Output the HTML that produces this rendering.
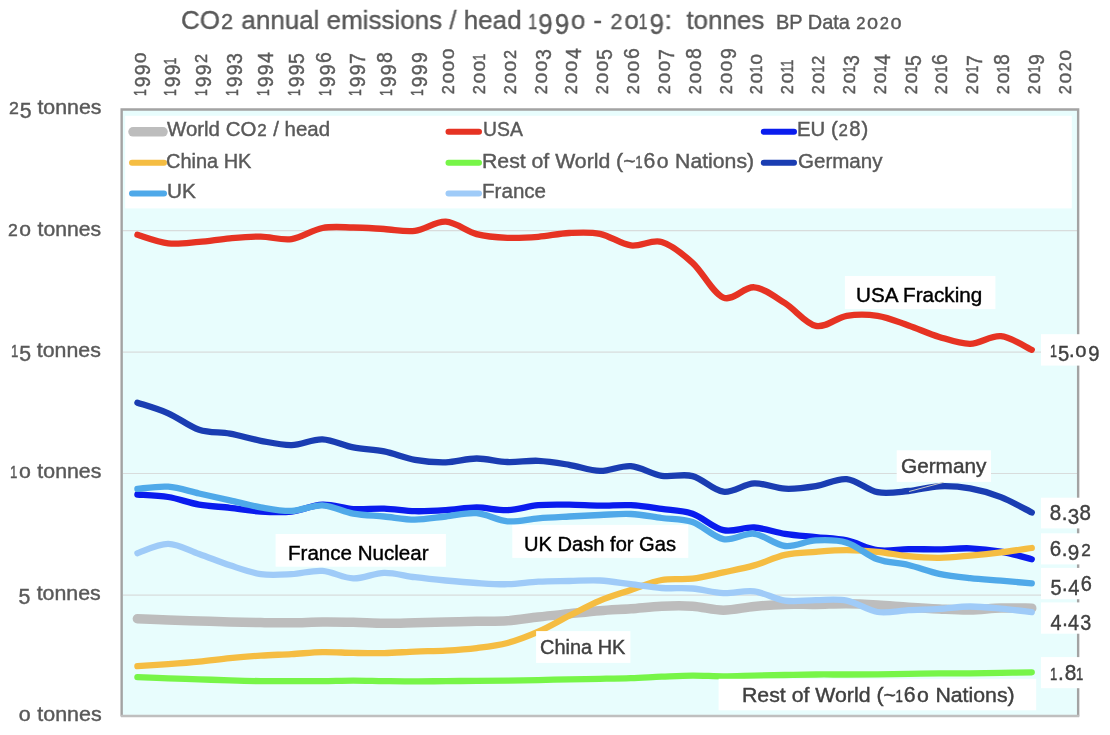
<!DOCTYPE html><html><head><meta charset="utf-8"><title>CO2 annual emissions / head</title><style>
html,body{margin:0;padding:0;background:#fff}
body{width:1110px;height:735px;position:relative;overflow:hidden;font-family:"Liberation Sans",sans-serif}
svg{position:absolute;left:0;top:0}
.t{position:absolute;white-space:nowrap;line-height:1;transform-origin:0 0;will-change:transform;-webkit-text-stroke:.4px}
.y{position:absolute;white-space:nowrap;line-height:1;transform-origin:0 0;color:#595959;font-size:19.3px;will-change:transform;-webkit-text-stroke:.4px}

.t span,.y span{line-height:0}
.d0{margin:0 .033em}.d0 i{font-size:0}.d0::after{content:"o"}
.d1{font-size:83%;margin:0 -0.045em 0 -0.105em;display:inline-block;transform:scaleX(.75);}
.d2{font-size:83%;margin:0 0.053em 0 0.053em;}
.d3{font-size:111%;margin:0 -0.031em 0 -0.031em;position:relative;top:.178em;display:inline-block;transform:scaleX(.9);}
.d4{font-size:111%;margin:0 0.002em 0 0.002em;position:relative;top:.178em;display:inline-block;transform:scaleX(.9);}
.d5{font-size:111%;margin:0 -0.031em 0 -0.031em;position:relative;top:.178em;display:inline-block;transform:scaleX(.9);}
.d6{font-size:111%;margin:0 0.002em 0 0.002em;display:inline-block;transform:scaleX(.9);}
.d7{font-size:111%;margin:0 -0.031em 0 -0.031em;position:relative;top:.178em;display:inline-block;transform:scaleX(.9);}
.d8{font-size:111%;margin:0 0.002em 0 0.002em;display:inline-block;transform:scaleX(.9);}
.d9{font-size:111%;margin:0 0.004em 0 0.004em;position:relative;top:.178em;display:inline-block;transform:scaleX(.9);}

</style></head><body>
<svg width="1110" height="735" viewBox="0 0 1110 735">
<rect x="122" y="109.4" width="956" height="606.6" fill="#e8fdfd"/>
<line x1="123" x2="1077" y1="230.6" y2="230.6" stroke="#d8dcdc" stroke-width="1.2"/>
<line x1="123" x2="1077" y1="352.1" y2="352.1" stroke="#d8dcdc" stroke-width="1.2"/>
<line x1="123" x2="1077" y1="473.5" y2="473.5" stroke="#d8dcdc" stroke-width="1.2"/>
<line x1="123" x2="1077" y1="595.1" y2="595.1" stroke="#d8dcdc" stroke-width="1.2"/>
<rect x="125.2" y="115.8" width="946.6" height="92.6" fill="#fff"/>
<path d="M137.40 618.80 C142.54 619.00 157.96 619.63 168.24 620.00 C178.52 620.37 188.80 620.67 199.08 621.00 C209.36 621.33 219.64 621.73 229.92 622.00 C240.20 622.27 250.48 622.47 260.76 622.60 C271.04 622.73 281.32 622.90 291.60 622.80 C301.88 622.70 312.16 622.08 322.44 622.00 C332.72 621.92 343.00 622.08 353.28 622.30 C363.56 622.52 373.84 623.22 384.12 623.30 C394.40 623.38 404.68 623.00 414.96 622.80 C425.24 622.60 435.52 622.35 445.80 622.10 C456.08 621.85 466.36 621.52 476.64 621.30 C486.92 621.08 497.20 621.52 507.48 620.80 C517.76 620.08 528.04 618.17 538.32 617.00 C548.60 615.83 558.88 614.85 569.16 613.80 C579.44 612.75 589.72 611.55 600.00 610.70 C610.28 609.85 620.56 609.45 630.84 608.70 C641.12 607.95 651.40 606.62 661.68 606.20 C671.96 605.78 682.24 605.53 692.52 606.20 C702.80 606.87 713.08 610.17 723.36 610.20 C733.64 610.23 743.92 607.37 754.20 606.40 C764.48 605.43 774.76 604.73 785.04 604.40 C795.32 604.07 805.60 604.52 815.88 604.40 C826.16 604.28 836.44 603.62 846.72 603.70 C857.00 603.78 867.28 604.32 877.56 604.90 C887.84 605.48 898.12 606.52 908.40 607.20 C918.68 607.88 928.96 608.53 939.24 609.00 C949.52 609.47 959.80 610.17 970.08 610.00 C980.36 609.83 990.64 608.30 1000.92 608.00 C1011.20 607.70 1026.62 608.17 1031.76 608.20" fill="none" stroke="#bdbdbd" stroke-width="9.5" stroke-linecap="round" stroke-linejoin="round"/>
<path d="M137.40 234.80 C142.54 236.23 157.96 242.22 168.24 243.40 C178.52 244.58 188.80 242.75 199.08 241.90 C209.36 241.05 219.64 239.18 229.92 238.30 C240.20 237.42 250.48 236.47 260.76 236.60 C271.04 236.73 281.32 240.53 291.60 239.10 C301.88 237.67 312.16 229.93 322.44 228.00 C332.72 226.07 343.00 227.33 353.28 227.50 C363.56 227.67 373.84 228.45 384.12 229.00 C394.40 229.55 404.68 232.02 414.96 230.80 C425.24 229.58 435.52 221.15 445.80 221.70 C456.08 222.25 466.36 231.42 476.64 234.10 C486.92 236.78 497.20 237.35 507.48 237.80 C517.76 238.25 528.04 237.60 538.32 236.80 C548.60 236.00 558.88 233.50 569.16 233.00 C579.44 232.50 589.72 231.73 600.00 233.80 C610.28 235.87 620.56 244.03 630.84 245.40 C641.12 246.77 651.40 239.10 661.68 242.00 C671.96 244.90 682.24 253.53 692.52 262.80 C702.80 272.07 713.08 293.52 723.36 297.60 C733.64 301.68 743.92 286.37 754.20 287.30 C764.48 288.23 774.76 296.77 785.04 303.20 C795.32 309.63 805.60 323.80 815.88 325.90 C826.16 328.00 836.44 317.48 846.72 315.80 C857.00 314.12 867.28 314.20 877.56 315.80 C887.84 317.40 898.12 321.88 908.40 325.40 C918.68 328.92 928.96 333.83 939.24 336.90 C949.52 339.97 959.80 343.92 970.08 343.80 C980.36 343.68 990.64 335.20 1000.92 336.20 C1011.20 337.20 1026.62 347.53 1031.76 349.80" fill="none" stroke="#e63323" stroke-width="6.3" stroke-linecap="round" stroke-linejoin="round"/>
<path d="M137.40 494.50 C142.54 494.92 157.96 495.32 168.24 497.00 C178.52 498.68 188.80 502.80 199.08 504.60 C209.36 506.40 219.64 506.63 229.92 507.80 C240.20 508.97 250.48 510.97 260.76 511.60 C271.04 512.23 281.32 512.77 291.60 511.60 C301.88 510.43 312.16 505.02 322.44 504.60 C332.72 504.18 343.00 508.43 353.28 509.10 C363.56 509.77 373.84 508.25 384.12 508.60 C394.40 508.95 404.68 510.93 414.96 511.20 C425.24 511.47 435.52 510.83 445.80 510.20 C456.08 509.57 466.36 507.40 476.64 507.40 C486.92 507.40 497.20 510.57 507.48 510.20 C517.76 509.83 528.04 506.12 538.32 505.20 C548.60 504.28 558.88 504.62 569.16 504.70 C579.44 504.78 589.72 505.62 600.00 505.70 C610.28 505.78 620.56 504.68 630.84 505.20 C641.12 505.72 651.40 507.38 661.68 508.80 C671.96 510.22 682.24 510.15 692.52 513.70 C702.80 517.25 713.08 527.80 723.36 530.10 C733.64 532.40 743.92 526.88 754.20 527.50 C764.48 528.12 774.76 532.20 785.04 533.80 C795.32 535.40 805.60 536.00 815.88 537.10 C826.16 538.20 836.44 538.22 846.72 540.40 C857.00 542.58 867.28 548.73 877.56 550.20 C887.84 551.67 898.12 549.35 908.40 549.20 C918.68 549.05 928.96 549.45 939.24 549.30 C949.52 549.15 959.80 547.92 970.08 548.30 C980.36 548.68 990.64 549.78 1000.92 551.60 C1011.20 553.42 1026.62 557.93 1031.76 559.20" fill="none" stroke="#0a1cee" stroke-width="6.3" stroke-linecap="round" stroke-linejoin="round"/>
<path d="M137.40 666.20 C142.54 665.87 157.96 664.95 168.24 664.20 C178.52 663.45 188.80 662.70 199.08 661.70 C209.36 660.70 219.64 659.22 229.92 658.20 C240.20 657.18 250.48 656.28 260.76 655.60 C271.04 654.92 281.32 654.68 291.60 654.10 C301.88 653.52 312.16 652.30 322.44 652.10 C332.72 651.90 343.00 652.73 353.28 652.90 C363.56 653.07 373.84 653.32 384.12 653.10 C394.40 652.88 404.68 652.02 414.96 651.60 C425.24 651.18 435.52 651.18 445.80 650.60 C456.08 650.02 466.36 649.37 476.64 648.10 C486.92 646.83 497.20 645.73 507.48 643.00 C517.76 640.27 528.04 636.23 538.32 631.70 C548.60 627.17 558.88 620.98 569.16 615.80 C579.44 610.62 589.72 604.90 600.00 600.60 C610.28 596.30 620.56 593.43 630.84 590.00 C641.12 586.57 651.40 581.88 661.68 580.00 C671.96 578.12 682.24 579.97 692.52 578.70 C702.80 577.43 713.08 574.62 723.36 572.40 C733.64 570.18 743.92 568.33 754.20 565.40 C764.48 562.47 774.76 557.07 785.04 554.80 C795.32 552.53 805.60 552.57 815.88 551.80 C826.16 551.03 836.44 550.20 846.72 550.20 C857.00 550.20 867.28 550.80 877.56 551.80 C887.84 552.80 898.12 555.20 908.40 556.20 C918.68 557.20 928.96 557.90 939.24 557.80 C949.52 557.70 959.80 556.50 970.08 555.60 C980.36 554.70 990.64 553.67 1000.92 552.40 C1011.20 551.13 1026.62 548.73 1031.76 548.00" fill="none" stroke="#f5bd42" stroke-width="6.3" stroke-linecap="round" stroke-linejoin="round"/>
<path d="M137.40 677.10 C142.54 677.30 157.96 677.93 168.24 678.30 C178.52 678.67 188.80 678.95 199.08 679.30 C209.36 679.65 219.64 680.10 229.92 680.40 C240.20 680.70 250.48 680.98 260.76 681.10 C271.04 681.22 281.32 681.10 291.60 681.10 C301.88 681.10 312.16 681.18 322.44 681.10 C332.72 681.02 343.00 680.60 353.28 680.60 C363.56 680.60 373.84 680.97 384.12 681.10 C394.40 681.23 404.68 681.40 414.96 681.40 C425.24 681.40 435.52 681.18 445.80 681.10 C456.08 681.02 466.36 680.98 476.64 680.90 C486.92 680.82 497.20 680.73 507.48 680.60 C517.76 680.47 528.04 680.32 538.32 680.10 C548.60 679.88 558.88 679.52 569.16 679.30 C579.44 679.08 589.72 679.00 600.00 678.80 C610.28 678.60 620.56 678.45 630.84 678.10 C641.12 677.75 651.40 677.12 661.68 676.70 C671.96 676.28 682.24 675.67 692.52 675.60 C702.80 675.53 713.08 676.30 723.36 676.30 C733.64 676.30 743.92 675.82 754.20 675.60 C764.48 675.38 774.76 675.18 785.04 675.00 C795.32 674.82 805.60 674.58 815.88 674.50 C826.16 674.42 836.44 674.53 846.72 674.50 C857.00 674.47 867.28 674.40 877.56 674.30 C887.84 674.20 898.12 674.05 908.40 673.90 C918.68 673.75 928.96 673.50 939.24 673.40 C949.52 673.30 959.80 673.38 970.08 673.30 C980.36 673.22 990.64 673.07 1000.92 672.90 C1011.20 672.73 1026.62 672.40 1031.76 672.30" fill="none" stroke="#77f548" stroke-width="6.3" stroke-linecap="round" stroke-linejoin="round"/>
<path d="M137.40 402.70 C142.54 404.47 157.96 408.80 168.24 413.30 C178.52 417.80 188.80 426.30 199.08 429.70 C209.36 433.10 219.64 431.85 229.92 433.70 C240.20 435.55 250.48 438.90 260.76 440.80 C271.04 442.70 281.32 445.35 291.60 445.10 C301.88 444.85 312.16 438.92 322.44 439.30 C332.72 439.68 343.00 445.38 353.28 447.40 C363.56 449.42 373.84 449.33 384.12 451.40 C394.40 453.47 404.68 457.98 414.96 459.80 C425.24 461.62 435.52 462.52 445.80 462.30 C456.08 462.08 466.36 458.55 476.64 458.50 C486.92 458.45 497.20 461.62 507.48 462.00 C517.76 462.38 528.04 460.33 538.32 460.80 C548.60 461.27 558.88 463.12 569.16 464.80 C579.44 466.48 589.72 470.68 600.00 470.90 C610.28 471.12 620.56 465.28 630.84 466.10 C641.12 466.92 651.40 474.13 661.68 475.80 C671.96 477.47 682.24 473.45 692.52 476.10 C702.80 478.75 713.08 490.48 723.36 491.70 C733.64 492.92 743.92 483.90 754.20 483.40 C764.48 482.90 774.76 488.23 785.04 488.70 C795.32 489.17 805.60 487.80 815.88 486.20 C826.16 484.60 836.44 478.10 846.72 479.10 C857.00 480.10 867.28 490.22 877.56 492.20 C887.84 494.18 898.12 491.98 908.40 491.00 C918.68 490.02 928.96 486.73 939.24 486.30 C949.52 485.87 959.80 486.60 970.08 488.40 C980.36 490.20 990.64 493.08 1000.92 497.10 C1011.20 501.12 1026.62 509.93 1031.76 512.50" fill="none" stroke="#1a3db2" stroke-width="6.3" stroke-linecap="round" stroke-linejoin="round"/>
<path d="M137.40 488.90 C142.54 488.53 157.96 485.93 168.24 486.70 C178.52 487.47 188.80 491.23 199.08 493.50 C209.36 495.77 219.64 498.00 229.92 500.30 C240.20 502.60 250.48 505.53 260.76 507.30 C271.04 509.07 281.32 511.23 291.60 510.90 C301.88 510.57 312.16 504.85 322.44 505.30 C332.72 505.75 343.00 511.73 353.28 513.60 C363.56 515.47 373.84 515.50 384.12 516.50 C394.40 517.50 404.68 519.60 414.96 519.60 C425.24 519.60 435.52 517.57 445.80 516.50 C456.08 515.43 466.36 512.40 476.64 513.20 C486.92 514.00 497.20 520.45 507.48 521.30 C517.76 522.15 528.04 519.10 538.32 518.30 C548.60 517.50 558.88 517.05 569.16 516.50 C579.44 515.95 589.72 515.42 600.00 515.00 C610.28 514.58 620.56 513.50 630.84 514.00 C641.12 514.50 651.40 516.67 661.68 518.00 C671.96 519.33 682.24 518.48 692.52 522.00 C702.80 525.52 713.08 537.13 723.36 539.10 C733.64 541.07 743.92 532.65 754.20 533.80 C764.48 534.95 774.76 544.90 785.04 546.00 C795.32 547.10 805.60 540.95 815.88 540.40 C826.16 539.85 836.44 539.55 846.72 542.70 C857.00 545.85 867.28 555.58 877.56 559.30 C887.84 563.02 898.12 562.58 908.40 565.00 C918.68 567.42 928.96 571.60 939.24 573.80 C949.52 576.00 959.80 577.05 970.08 578.20 C980.36 579.35 990.64 579.85 1000.92 580.70 C1011.20 581.55 1026.62 582.87 1031.76 583.30" fill="none" stroke="#4fa9e9" stroke-width="6.3" stroke-linecap="round" stroke-linejoin="round"/>
<path d="M137.40 553.20 C142.54 551.65 157.96 543.77 168.24 543.90 C178.52 544.03 188.80 550.43 199.08 554.00 C209.36 557.57 219.64 561.95 229.92 565.30 C240.20 568.65 250.48 572.63 260.76 574.10 C271.04 575.57 281.32 574.63 291.60 574.10 C301.88 573.57 312.16 570.18 322.44 570.90 C332.72 571.62 343.00 578.07 353.28 578.40 C363.56 578.73 373.84 573.10 384.12 572.90 C394.40 572.70 404.68 575.93 414.96 577.20 C425.24 578.47 435.52 579.53 445.80 580.50 C456.08 581.47 466.36 582.38 476.64 583.00 C486.92 583.62 497.20 584.42 507.48 584.20 C517.76 583.98 528.04 582.23 538.32 581.70 C548.60 581.17 558.88 581.20 569.16 581.00 C579.44 580.80 589.72 579.97 600.00 580.50 C610.28 581.03 620.56 582.95 630.84 584.20 C641.12 585.45 651.40 587.28 661.68 588.00 C671.96 588.72 682.24 587.65 692.52 588.50 C702.80 589.35 713.08 592.63 723.36 593.10 C733.64 593.57 743.92 590.05 754.20 591.30 C764.48 592.55 774.76 599.13 785.04 600.60 C795.32 602.07 805.60 600.10 815.88 600.10 C826.16 600.10 836.44 598.62 846.72 600.60 C857.00 602.58 867.28 610.40 877.56 612.00 C887.84 613.60 898.12 610.73 908.40 610.20 C918.68 609.67 928.96 609.42 939.24 608.80 C949.52 608.18 959.80 606.53 970.08 606.50 C980.36 606.47 990.64 607.65 1000.92 608.60 C1011.20 609.55 1026.62 611.60 1031.76 612.20" fill="none" stroke="#9fcbf8" stroke-width="6.3" stroke-linecap="round" stroke-linejoin="round"/>
<path d="M121.65 716.6V109.45H1078.15V716.6" fill="none" stroke="#a3a3a3" stroke-width="2.4"/>
<line x1="121" x2="1079.2" y1="716" y2="716" stroke="#bfbfbf" stroke-width="2.6"/>
<line x1="943.8" y1="482.2" x2="909" y2="491.5" stroke="#c9c9c9" stroke-width="1"/>
<rect x="844.9" y="276.0" width="150.5" height="33.1" fill="#fff"/>
<rect x="275.6" y="534.0" width="170.3" height="32.7" fill="#fff"/>
<rect x="512.3" y="524.9" width="176.0" height="33.0" fill="#fff"/>
<rect x="896.7" y="450.3" width="94.3" height="31.6" fill="#fff"/>
<rect x="536.1" y="631.1" width="94.3" height="31.8" fill="#fff"/>
<rect x="718.6" y="678.8" width="317.6" height="31.5" fill="#fff"/>
<rect x="1041.0" y="334.2" width="65.0" height="31.4" fill="#fff"/>
<rect x="1041.0" y="497.7" width="65.0" height="30.7" fill="#fff"/>
<rect x="1041.0" y="533.3" width="65.0" height="31.1" fill="#fff"/>
<rect x="1041.0" y="567.9" width="65.0" height="31.3" fill="#fff"/>
<rect x="1041.0" y="602.4" width="65.0" height="31.3" fill="#fff"/>
<rect x="1041.0" y="657.1" width="65.0" height="31.1" fill="#fff"/>
<line x1="133.0" x2="163.0" y1="131.8" y2="131.8" stroke="#bdbdbd" stroke-width="9.5" stroke-linecap="round"/>
<line x1="132.0" x2="164.0" y1="162.8" y2="162.8" stroke="#f5bd42" stroke-width="6.0" stroke-linecap="round"/>
<line x1="132.0" x2="164.0" y1="193.6" y2="193.6" stroke="#4fa9e9" stroke-width="6.0" stroke-linecap="round"/>
<line x1="448.5" x2="479.0" y1="131.8" y2="131.8" stroke="#e63323" stroke-width="6.0" stroke-linecap="round"/>
<line x1="448.5" x2="479.0" y1="162.8" y2="162.8" stroke="#77f548" stroke-width="6.0" stroke-linecap="round"/>
<line x1="448.5" x2="479.0" y1="193.6" y2="193.6" stroke="#9fcbf8" stroke-width="6.0" stroke-linecap="round"/>
<line x1="763.8" x2="794.0" y1="131.8" y2="131.8" stroke="#0a1cee" stroke-width="6.0" stroke-linecap="round"/>
<line x1="763.8" x2="794.0" y1="162.8" y2="162.8" stroke="#1a3db2" stroke-width="6.0" stroke-linecap="round"/>
</svg>
<div class="t" id="title" style="left:180.5px;top:7.3px;font-size:26.6px;color:#595959;transform:scaleX(0.9766)">CO<span class="d2">2</span> annual emissions / head <span class="d1">1</span><span class="d9">9</span><span class="d9">9</span><span class="d0"><i>0</i></span> - <span class="d2">2</span><span class="d0"><i>0</i></span><span class="d1">1</span><span class="d9">9</span>:  tonnes</div>
<div class="t" id="sub" style="left:776.1px;top:13.0px;font-size:19.8px;color:#595959;transform:scaleX(1.0086)">BP Data <span class="d2">2</span><span class="d0"><i>0</i></span><span class="d2">2</span><span class="d0"><i>0</i></span></div>
<div class="t" id="ax25" style="left:8.4px;top:98.3px;font-size:19.3px;color:#595959;transform:scaleX(1.1079)"><span class="d2">2</span><span class="d5">5</span> tonnes</div>
<div class="t" id="ax20" style="left:6.9px;top:219.5px;font-size:19.3px;color:#595959;transform:scaleX(1.0960)"><span class="d2">2</span><span class="d0"><i>0</i></span> tonnes</div>
<div class="t" id="ax15" style="left:12.4px;top:340.9px;font-size:19.3px;color:#595959;transform:scaleX(1.1050)"><span class="d1">1</span><span class="d5">5</span> tonnes</div>
<div class="t" id="ax10" style="left:11.2px;top:462.1px;font-size:19.3px;color:#595959;transform:scaleX(1.1050)"><span class="d1">1</span><span class="d0"><i>0</i></span> tonnes</div>
<div class="t" id="ax5" style="left:19.3px;top:584.1px;font-size:19.3px;color:#595959;transform:scaleX(1.1068)"><span class="d5">5</span> tonnes</div>
<div class="t" id="ax0" style="left:18.1px;top:705.0px;font-size:19.3px;color:#595959;transform:scaleX(1.1123)"><span class="d0"><i>0</i></span> tonnes</div>
<div class="t" id="l1" style="left:167.0px;top:120.3px;font-size:19.3px;color:#595959;transform:scaleX(1.0597)">World CO<span class="d2">2</span> / head</div>
<div class="t" id="l2" style="left:166.2px;top:151.5px;font-size:19.3px;color:#595959;transform:scaleX(1.0353)">China HK</div>
<div class="t" id="l3" style="left:166.8px;top:182.3px;font-size:19.3px;color:#595959;transform:scaleX(1.0772)">UK</div>
<div class="t" id="l4" style="left:482.5px;top:120.3px;font-size:19.3px;color:#595959;transform:scaleX(1.0044)">USA</div>
<div class="t" id="l5" style="left:482.0px;top:151.5px;font-size:19.3px;color:#595959;transform:scaleX(1.1012)">Rest of World (~<span class="d1">1</span><span class="d6">6</span><span class="d0"><i>0</i></span> Nations)</div>
<div class="t" id="l6" style="left:482.1px;top:182.3px;font-size:19.3px;color:#595959;transform:scaleX(1.0677)">France</div>
<div class="t" id="l7" style="left:797.2px;top:120.3px;font-size:19.3px;color:#595959;transform:scaleX(1.0541)">EU (<span class="d2">2</span><span class="d8">8</span>)</div>
<div class="t" id="l8" style="left:797.6px;top:151.5px;font-size:19.3px;color:#595959;transform:scaleX(1.0654)">Germany</div>
<div class="t" id="a1" style="left:856.4px;top:285.7px;font-size:19.3px;color:#000;transform:scaleX(1.0709)">USA Fracking</div>
<div class="t" id="a2" style="left:287.6px;top:544.4px;font-size:19.3px;color:#000;transform:scaleX(1.0658)">France Nuclear</div>
<div class="t" id="a3" style="left:524.0px;top:534.7px;font-size:19.3px;color:#000;transform:scaleX(1.0429)">UK Dash for Gas</div>
<div class="t" id="a4" style="left:901.1px;top:456.7px;font-size:19.3px;color:#404040;transform:scaleX(1.0768)">Germany</div>
<div class="t" id="a5" style="left:539.6px;top:638.1px;font-size:19.3px;color:#404040;transform:scaleX(1.0343)">China HK</div>
<div class="t" id="a6" style="left:741.8px;top:685.5px;font-size:19.3px;color:#404040;transform:scaleX(1.1033)">Rest of World (~<span class="d1">1</span><span class="d6">6</span><span class="d0"><i>0</i></span> Nations)</div>
<div class="t" id="v1" style="left:1050.7px;top:341.1px;font-size:19.3px;color:#404040;transform:scaleX(1.0478)"><span class="d1">1</span><span class="d5">5</span>.<span class="d0"><i>0</i></span><span class="d9">9</span></div>
<div class="t" id="v2" style="left:1049.4px;top:504.3px;font-size:19.3px;color:#404040;transform:scaleX(1.0669)"><span class="d8">8</span>.<span class="d3">3</span><span class="d8">8</span></div>
<div class="t" id="v3" style="left:1049.2px;top:540.0px;font-size:19.3px;color:#404040;transform:scaleX(1.0690)"><span class="d6">6</span>.<span class="d9">9</span><span class="d2">2</span></div>
<div class="t" id="v4" style="left:1050.7px;top:575.1px;font-size:19.3px;color:#404040;transform:scaleX(1.0366)"><span class="d5">5</span>.<span class="d4">4</span><span class="d6">6</span></div>
<div class="t" id="v5" style="left:1049.7px;top:610.2px;font-size:19.3px;color:#404040;transform:scaleX(1.0241)"><span class="d4">4</span>.<span class="d4">4</span><span class="d3">3</span></div>
<div class="t" id="v6" style="left:1050.7px;top:663.7px;font-size:19.3px;color:#404040;transform:scaleX(1.0827)"><span class="d1">1</span>.<span class="d8">8</span><span class="d1">1</span></div>
<div class="y" id="y1990" style="left:129.6px;top:94.6px;transform:rotate(-90deg) scaleX(1.0135)"><span class="d1">1</span><span class="d9">9</span><span class="d9">9</span><span class="d0"><i>0</i></span></div>
<div class="y" id="y1991" style="left:160.4px;top:94.6px;transform:rotate(-90deg) scaleX(1.0135)"><span class="d1">1</span><span class="d9">9</span><span class="d9">9</span><span class="d1">1</span></div>
<div class="y" id="y1992" style="left:191.2px;top:94.6px;transform:rotate(-90deg) scaleX(1.0135)"><span class="d1">1</span><span class="d9">9</span><span class="d9">9</span><span class="d2">2</span></div>
<div class="y" id="y1993" style="left:222.1px;top:94.6px;transform:rotate(-90deg) scaleX(1.0135)"><span class="d1">1</span><span class="d9">9</span><span class="d9">9</span><span class="d3">3</span></div>
<div class="y" id="y1994" style="left:252.9px;top:94.6px;transform:rotate(-90deg) scaleX(1.0135)"><span class="d1">1</span><span class="d9">9</span><span class="d9">9</span><span class="d4">4</span></div>
<div class="y" id="y1995" style="left:283.8px;top:94.6px;transform:rotate(-90deg) scaleX(1.0135)"><span class="d1">1</span><span class="d9">9</span><span class="d9">9</span><span class="d5">5</span></div>
<div class="y" id="y1996" style="left:314.6px;top:94.6px;transform:rotate(-90deg) scaleX(1.0135)"><span class="d1">1</span><span class="d9">9</span><span class="d9">9</span><span class="d6">6</span></div>
<div class="y" id="y1997" style="left:345.4px;top:94.6px;transform:rotate(-90deg) scaleX(1.0135)"><span class="d1">1</span><span class="d9">9</span><span class="d9">9</span><span class="d7">7</span></div>
<div class="y" id="y1998" style="left:376.3px;top:94.6px;transform:rotate(-90deg) scaleX(1.0135)"><span class="d1">1</span><span class="d9">9</span><span class="d9">9</span><span class="d8">8</span></div>
<div class="y" id="y1999" style="left:407.1px;top:94.6px;transform:rotate(-90deg) scaleX(1.0135)"><span class="d1">1</span><span class="d9">9</span><span class="d9">9</span><span class="d9">9</span></div>
<div class="y" id="y2000" style="left:438.0px;top:94.6px;transform:rotate(-90deg) scaleX(1.0135)"><span class="d2">2</span><span class="d0"><i>0</i></span><span class="d0"><i>0</i></span><span class="d0"><i>0</i></span></div>
<div class="y" id="y2001" style="left:468.8px;top:94.6px;transform:rotate(-90deg) scaleX(1.0135)"><span class="d2">2</span><span class="d0"><i>0</i></span><span class="d0"><i>0</i></span><span class="d1">1</span></div>
<div class="y" id="y2002" style="left:499.6px;top:94.6px;transform:rotate(-90deg) scaleX(1.0135)"><span class="d2">2</span><span class="d0"><i>0</i></span><span class="d0"><i>0</i></span><span class="d2">2</span></div>
<div class="y" id="y2003" style="left:530.5px;top:94.6px;transform:rotate(-90deg) scaleX(1.0135)"><span class="d2">2</span><span class="d0"><i>0</i></span><span class="d0"><i>0</i></span><span class="d3">3</span></div>
<div class="y" id="y2004" style="left:561.3px;top:94.6px;transform:rotate(-90deg) scaleX(1.0135)"><span class="d2">2</span><span class="d0"><i>0</i></span><span class="d0"><i>0</i></span><span class="d4">4</span></div>
<div class="y" id="y2005" style="left:592.2px;top:94.6px;transform:rotate(-90deg) scaleX(1.0135)"><span class="d2">2</span><span class="d0"><i>0</i></span><span class="d0"><i>0</i></span><span class="d5">5</span></div>
<div class="y" id="y2006" style="left:623.0px;top:94.6px;transform:rotate(-90deg) scaleX(1.0135)"><span class="d2">2</span><span class="d0"><i>0</i></span><span class="d0"><i>0</i></span><span class="d6">6</span></div>
<div class="y" id="y2007" style="left:653.8px;top:94.6px;transform:rotate(-90deg) scaleX(1.0135)"><span class="d2">2</span><span class="d0"><i>0</i></span><span class="d0"><i>0</i></span><span class="d7">7</span></div>
<div class="y" id="y2008" style="left:684.7px;top:94.6px;transform:rotate(-90deg) scaleX(1.0135)"><span class="d2">2</span><span class="d0"><i>0</i></span><span class="d0"><i>0</i></span><span class="d8">8</span></div>
<div class="y" id="y2009" style="left:715.5px;top:94.6px;transform:rotate(-90deg) scaleX(1.0135)"><span class="d2">2</span><span class="d0"><i>0</i></span><span class="d0"><i>0</i></span><span class="d9">9</span></div>
<div class="y" id="y2010" style="left:746.4px;top:94.6px;transform:rotate(-90deg) scaleX(1.0135)"><span class="d2">2</span><span class="d0"><i>0</i></span><span class="d1">1</span><span class="d0"><i>0</i></span></div>
<div class="y" id="y2011" style="left:777.2px;top:94.6px;transform:rotate(-90deg) scaleX(1.0135)"><span class="d2">2</span><span class="d0"><i>0</i></span><span class="d1">1</span><span class="d1">1</span></div>
<div class="y" id="y2012" style="left:808.0px;top:94.6px;transform:rotate(-90deg) scaleX(1.0135)"><span class="d2">2</span><span class="d0"><i>0</i></span><span class="d1">1</span><span class="d2">2</span></div>
<div class="y" id="y2013" style="left:838.9px;top:94.6px;transform:rotate(-90deg) scaleX(1.0135)"><span class="d2">2</span><span class="d0"><i>0</i></span><span class="d1">1</span><span class="d3">3</span></div>
<div class="y" id="y2014" style="left:869.7px;top:94.6px;transform:rotate(-90deg) scaleX(1.0135)"><span class="d2">2</span><span class="d0"><i>0</i></span><span class="d1">1</span><span class="d4">4</span></div>
<div class="y" id="y2015" style="left:900.6px;top:94.6px;transform:rotate(-90deg) scaleX(1.0135)"><span class="d2">2</span><span class="d0"><i>0</i></span><span class="d1">1</span><span class="d5">5</span></div>
<div class="y" id="y2016" style="left:931.4px;top:94.6px;transform:rotate(-90deg) scaleX(1.0135)"><span class="d2">2</span><span class="d0"><i>0</i></span><span class="d1">1</span><span class="d6">6</span></div>
<div class="y" id="y2017" style="left:962.2px;top:94.6px;transform:rotate(-90deg) scaleX(1.0135)"><span class="d2">2</span><span class="d0"><i>0</i></span><span class="d1">1</span><span class="d7">7</span></div>
<div class="y" id="y2018" style="left:993.1px;top:94.6px;transform:rotate(-90deg) scaleX(1.0135)"><span class="d2">2</span><span class="d0"><i>0</i></span><span class="d1">1</span><span class="d8">8</span></div>
<div class="y" id="y2019" style="left:1023.9px;top:94.6px;transform:rotate(-90deg) scaleX(1.0135)"><span class="d2">2</span><span class="d0"><i>0</i></span><span class="d1">1</span><span class="d9">9</span></div>
<div class="y" id="y2020" style="left:1054.8px;top:94.6px;transform:rotate(-90deg) scaleX(1.0135)"><span class="d2">2</span><span class="d0"><i>0</i></span><span class="d2">2</span><span class="d0"><i>0</i></span></div>
</body></html>
